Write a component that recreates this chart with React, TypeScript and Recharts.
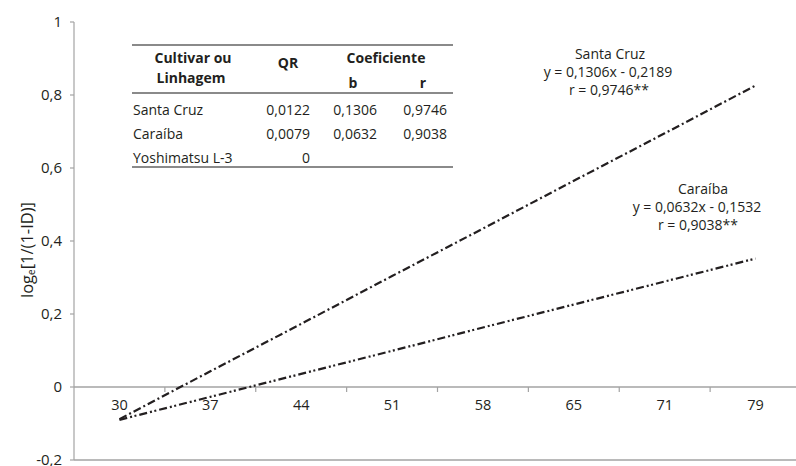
import React from 'react'
import { LineChart, Line, XAxis, YAxis, ReferenceLine } from 'recharts'

// days after sowing (category axis)
const categories = ['30', '37', '44', '51', '58', '65', '71', '79']
// fitted loge[1/(1-ID)]
const santaCruz = [-0.088, 0.043, 0.173, 0.304, 0.434, 0.565, 0.695, 0.826]
const caraiba = [-0.09, -0.027, 0.036, 0.099, 0.163, 0.226, 0.289, 0.352]
const yTicks = [-0.2, 0, 0.2, 0.4, 0.6, 0.8, 1]

const tableRows = [
  { name: 'Santa Cruz', qr: '0,0122', b: '0,1306', r: '0,9746' },
  { name: 'Caraíba', qr: '0,0079', b: '0,0632', r: '0,9038' },
  { name: 'Yoshimatsu L-3', qr: '0', b: '', r: '' },
]

const data = categories.map((c, i) => ({ cat: c, santaCruz: santaCruz[i], caraiba: caraiba[i] }))

const FONT = '"Open Sans", sans-serif'
const TEXT = '#231f20'
const AXIS = '#a3a3a3'

const CHART_W = 810
const CHART_H = 466
const X_AXIS_H = 1
const MARGIN = { top: 22, right: 9, bottom: 5, left: 0 }
const Y_AXIS_W = 74
const Y_MIN = -0.2
const Y_MAX = 1
const PLOT_W = CHART_W - MARGIN.left - MARGIN.right - Y_AXIS_W
const PLOT_H = CHART_H - MARGIN.top - MARGIN.bottom - X_AXIS_H
const ZERO_Y = MARGIN.top + (PLOT_H * Y_MAX) / (Y_MAX - Y_MIN)
const BAND = PLOT_W / categories.length

const fmt = (v: number) => String(v).replace('.', ',')

// category labels sit on the zero line, tick marks between categories
const XTick = (props: any) => {
  const { x, index, payload } = props
  return (
    <g>
      <text x={x} y={ZERO_Y + 23} textAnchor="middle" fill={TEXT} fontSize={14.5} fontFamily={FONT}>
        {payload.value}
      </text>
      {index > 0 && (
        <line x1={x - BAND / 2} x2={x - BAND / 2} y1={ZERO_Y} y2={ZERO_Y + 5} stroke={AXIS} strokeWidth={1.2} />
      )}
    </g>
  )
}

const Txt = ({ x, y, anchor = 'center', bold = false, children }: any) => {
  const tx = anchor === 'center' ? '-50%' : anchor === 'right' ? '-100%' : '0'
  return (
    <span
      style={{
        position: 'absolute',
        left: x,
        top: y,
        transform: `translate(${tx}, -50%)`,
        whiteSpace: 'nowrap',
        lineHeight: 1,
        fontWeight: bold ? 700 : 400,
      }}
    >
      {children}
    </span>
  )
}

const Rule = ({ y }: { y: number }) => (
  <div style={{ position: 'absolute', left: 132, width: 321, top: y, height: 1.5, background: '#8a8a8a' }} />
)

export default function App() {
  return (
    <div
      style={{
        position: 'fixed',
        left: 0,
        top: 0,
        width: 796,
        height: 466,
        overflow: 'hidden',
        background: '#fff',
        fontFamily: FONT,
        fontSize: 14,
        color: TEXT,
      }}
    >
      <LineChart width={CHART_W} height={CHART_H} data={data} margin={MARGIN}>
        <XAxis
          dataKey="cat"
          scale="band"
          height={X_AXIS_H}
          interval={0}
          axisLine={false}
          tickLine={false}
          tick={(p: any) => <XTick {...p} />}
        />
        <YAxis
          width={Y_AXIS_W}
          domain={[Y_MIN, Y_MAX]}
          ticks={yTicks}
          interval={0}
          tickFormatter={fmt}
          stroke={AXIS}
          strokeWidth={1.2}
          tickSize={4}
          tickMargin={8}
          tick={{ fill: TEXT, fontSize: 15, fontFamily: FONT }}
        />
        <ReferenceLine y={0} stroke={AXIS} strokeWidth={1.5} />
        <ReferenceLine y={Y_MIN} stroke={AXIS} strokeWidth={1.5} />
        <Line
          type="linear"
          dataKey="santaCruz"
          stroke={TEXT}
          strokeWidth={2.2}
          strokeDasharray="8 3 2 3"
          dot={false}
          isAnimationActive={false}
        />
        <Line
          type="linear"
          dataKey="caraiba"
          stroke={TEXT}
          strokeWidth={2.2}
          strokeDasharray="8 3 2 2.5 2 3"
          dot={false}
          isAnimationActive={false}
        />
      </LineChart>

      {/* y axis title */}
      <span
        style={{
          position: 'absolute',
          left: 27,
          top: 250,
          transform: 'translate(-50%, -50%) rotate(-90deg)',
          whiteSpace: 'nowrap',
          fontSize: 16.5,
          lineHeight: 1,
        }}
      >
        log<sub style={{ fontSize: 10, verticalAlign: '-0.2em' }}>e</sub>[1/(1-ID)]
      </span>

      {/* inset table */}
      <Rule y={44} />
      <Rule y={92} />
      <Rule y={166} />
      <Txt x={193} y={58} bold>Cultivar ou</Txt>
      <Txt x={191} y={78} bold>Linhagem</Txt>
      <Txt x={288} y={63} bold>QR</Txt>
      <Txt x={386} y={58} bold>Coeficiente</Txt>
      <Txt x={353} y={83} bold>b</Txt>
      <Txt x={423} y={83} bold>r</Txt>
      {tableRows.map((row, i) => (
        <React.Fragment key={row.name}>
          <Txt x={133} y={110 + i * 24} anchor="left">{row.name}</Txt>
          <Txt x={310} y={110 + i * 24} anchor="right">{row.qr}</Txt>
          <Txt x={377} y={110 + i * 24} anchor="right">{row.b}</Txt>
          <Txt x={447} y={110 + i * 24} anchor="right">{row.r}</Txt>
        </React.Fragment>
      ))}

      {/* regression annotations */}
      <Txt x={610} y={54}>Santa Cruz</Txt>
      <Txt x={608} y={72}>y = 0,1306x - 0,2189</Txt>
      <Txt x={609} y={90}>r = 0,9746**</Txt>
      <Txt x={703} y={189}>Caraíba</Txt>
      <Txt x={697} y={207}>y = 0,0632x - 0,1532</Txt>
      <Txt x={698} y={225}>r = 0,9038**</Txt>
    </div>
  )
}
